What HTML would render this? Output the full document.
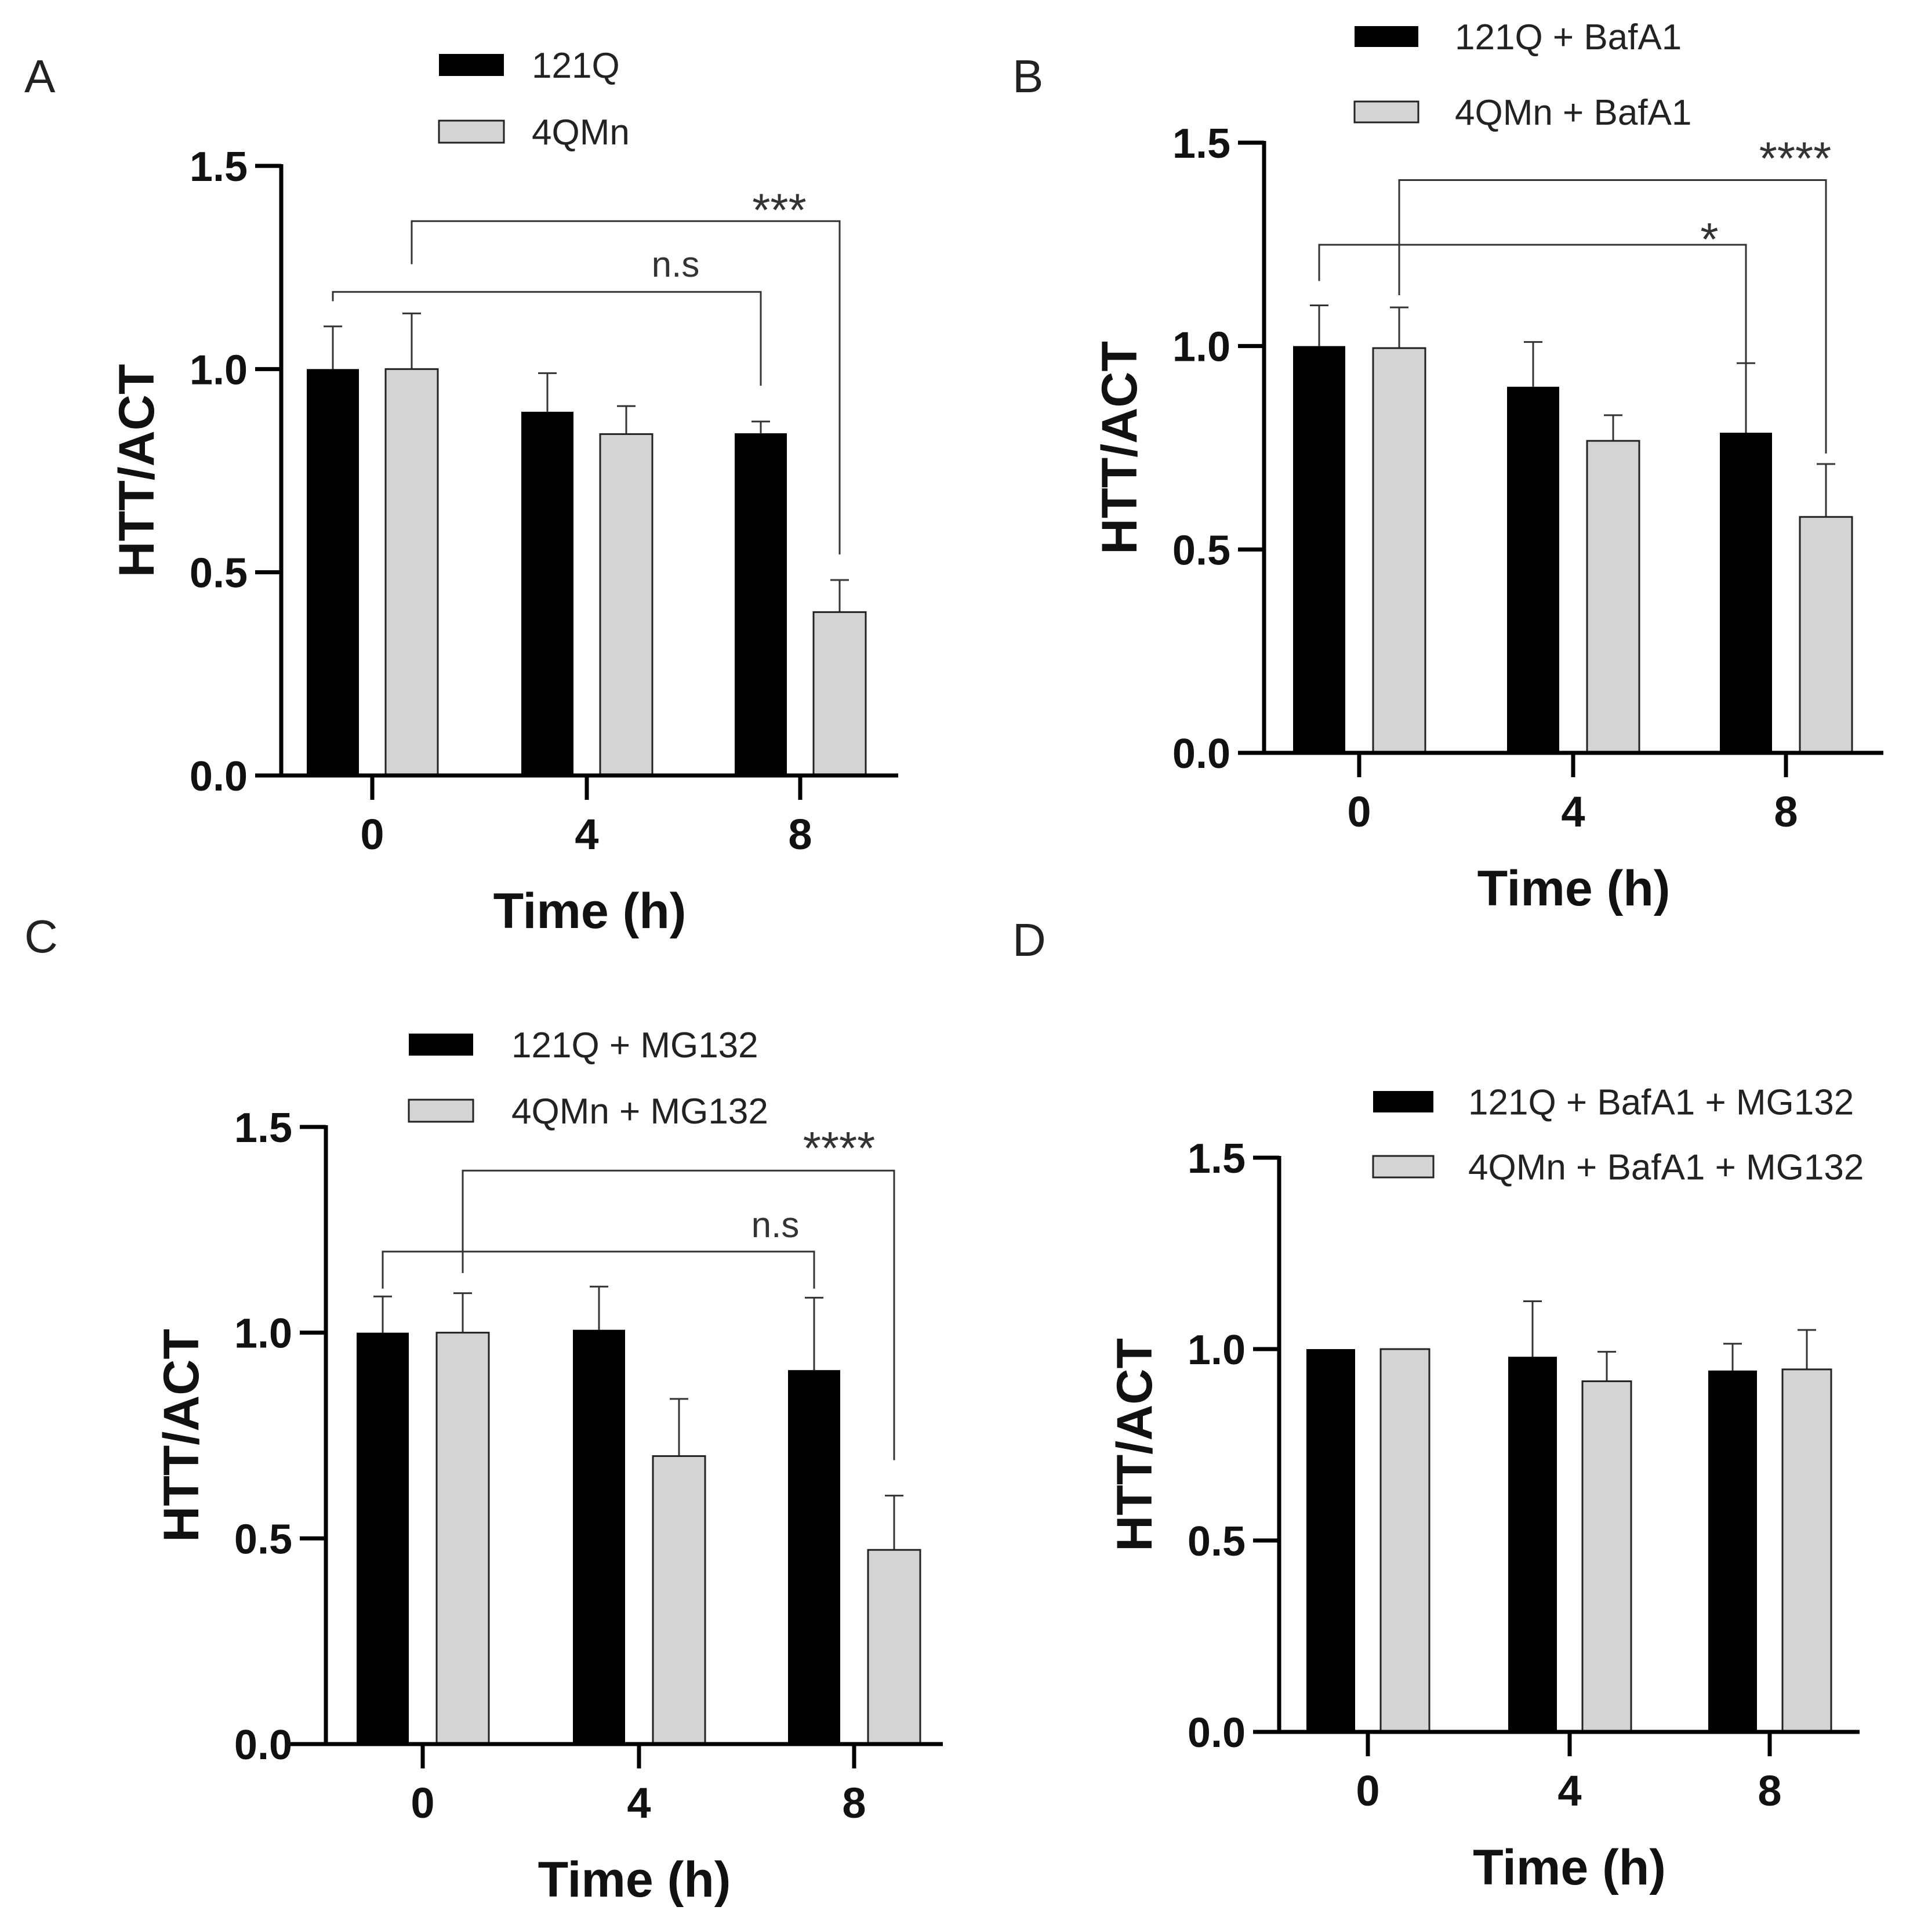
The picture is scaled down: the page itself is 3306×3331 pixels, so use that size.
<!DOCTYPE html>
<html><head><meta charset="utf-8"><style>
html,body{margin:0;padding:0;background:#fff;}
svg{display:block;font-family:"Liberation Sans",Arial,sans-serif;}
</style></head><body>
<svg id="fig" width="3306" height="3331" viewBox="0 0 3306 3331" xmlns="http://www.w3.org/2000/svg"></svg>
<script>
// ---- data ----
const categories = ["0","4","8"];
const yTicks = [0, 0.5, 1.0, 1.5];
const yTickLabels = ["0.0","0.5","1.0","1.5"];
// Panel A
const aBlack = [1.0, 0.895, 0.842];
const aBlackErr = [0.105, 0.095, 0.029];
const aGray = [1.0, 0.84, 0.402];
const aGrayErr = [0.137, 0.069, 0.079];
// Panel B
const bBlack = [1.0, 0.90, 0.787];
const bBlackErr = [0.10, 0.11, 0.171];
const bGray = [0.995, 0.767, 0.58];
const bGrayErr = [0.10, 0.063, 0.13];
// Panel C
const cBlack = [1.0, 1.007, 0.909];
const cBlackErr = [0.088, 0.105, 0.176];
const cGray = [1.0, 0.70, 0.472];
const cGrayErr = [0.096, 0.139, 0.132];
// Panel D
const dBlack = [1.0, 0.98, 0.944];
const dBlackErr = [0, 0.145, 0.07];
const dGray = [1.0, 0.916, 0.947];
const dGrayErr = [0, 0.077, 0.103];
// legend names
const aNames = ["121Q","4QMn"];
const bNames = ["121Q + BafA1","4QMn + BafA1"];
const cNames = ["121Q + MG132","4QMn + MG132"];
const dNames = ["121Q + BafA1 + MG132","4QMn + BafA1 + MG132"];
// brackets: [fromGroup, fromSeries, toGroup, toSeries, topVal, leftEndVal, rightEndVal, label]
const aBrackets = [[0,0,2,0,1.19,1.167,0.959,"n.s"],[0,1,2,1,1.364,1.258,0.544,"***"]];
const bBrackets = [[0,0,2,0,1.249,1.16,0.959,"*"],[0,1,2,1,1.408,1.125,0.736,"****"]];
const cBrackets = [[0,0,2,0,1.197,1.107,1.107,"n.s"],[0,1,2,1,1.394,1.145,0.69,"****"]];
const dBrackets = [];

// ---- layout ----
const panels = [
 {id:"a",letter:"A",lx:42,ly:159,ax:485,y0:1337,y15:286,xl:440,xr:1549,ticks:[642,1012,1380],off:68,bw:90,
  black:aBlack,blackErr:aBlackErr,gray:aGray,grayErr:aGrayErr,names:aNames,brackets:aBrackets,
  legX:757,legY:[93,208],legH:38,legW:112,legTX:917,labDx:[-147,-104],labDy:[-26,8]},
 {id:"b",letter:"B",lx:1746,ly:159,ax:2180,y0:1298,y15:246,xl:2140,xr:3248,ticks:[2344,2713,3080],off:69,bw:90,
  black:bBlack,blackErr:bBlackErr,gray:bGray,grayErr:bGrayErr,names:bNames,brackets:bBrackets,
  legX:2336,legY:[45,175],legH:36,legW:110,legTX:2509,labDx:[-63,-53],labDy:[18,-10]},
 {id:"c",letter:"C",lx:42,ly:1642,ax:562,y0:3007,y15:1943,xl:496,xr:1626,ticks:[729,1102,1473],off:69,bw:90,
  black:cBlack,blackErr:cBlackErr,gray:cGray,grayErr:cGrayErr,names:cNames,brackets:cBrackets,
  legX:705,legY:[1782,1896],legH:38,legW:111,legTX:882,labDx:[-67,-95],labDy:[-25,-11]},
 {id:"d",letter:"D",lx:1746,ly:1648,ax:2206,y0:2986,y15:1996,xl:2170,xr:3207,ticks:[2359,2707,3052],off:64,bw:84,
  black:dBlack,blackErr:dBlackErr,gray:dGray,grayErr:dGrayErr,names:dNames,brackets:dBrackets,
  legX:2368,legY:[1881,1993],legH:37,legW:104,legTX:2532,labDx:[],labDy:[]}
];

const NS="http://www.w3.org/2000/svg";
const fig=document.getElementById("fig");
function mk(tag,attrs,parent){const e=document.createElementNS(NS,tag);for(const k in attrs)e.setAttribute(k,attrs[k]);(parent||fig).appendChild(e);return e;}

panels.forEach(p=>{
  const g=mk("g",{});
  
  
  const yS=v=>p.y0-v*(p.y0-p.y15)/1.5;
  const L=mk("text",{x:p.lx,y:p.ly,"font-size":80,fill:"#222"},g);L.textContent=p.letter;
  
  
  const series=[[p.black,p.blackErr,"#000","#000",-p.off],[p.gray,p.grayErr,"#d4d4d4","#222",p.off]];
  series.forEach((s,si)=>{
    categories.forEach((c,i)=>{
      const cx=p.ticks[i]+s[4];
      const top=yS(s[0][i]);
      if(s[1][i]>0){
        const et=yS(s[0][i]+s[1][i]);
        const el=mk("line",{x1:cx,x2:cx,y1:top,y2:et,stroke:"#333","stroke-width":3},g);
        
        
        const ec=mk("line",{x1:cx-16,x2:cx+16,y1:et,y2:et,stroke:"#333","stroke-width":3},g);
        
        
      }
      const r=mk("rect",{x:cx-p.bw/2,y:top,width:p.bw,height:p.y0-top,fill:s[2],stroke:s[3],"stroke-width":si?3:0},g);
      
      
    });
  });
  const ya=mk("line",{x1:p.ax,x2:p.ax,y1:p.y15-3,y2:p.y0+3,stroke:"#000","stroke-width":7},g);
  
  
  const xa=mk("line",{x1:p.xl,x2:p.xr,y1:p.y0,y2:p.y0,stroke:"#000","stroke-width":7},g);
  
  
  yTicks.forEach((t,i)=>{
    const y=yS(t);
    const tk=mk("line",{x1:p.ax-45,x2:p.ax,y1:y,y2:y,stroke:"#000","stroke-width":7},g);
    
    
    const tl=mk("text",{x:p.ax-58,y:y+26,"font-size":72,"font-weight":"bold","text-anchor":"end",fill:"#111"},g);
    tl.textContent=yTickLabels[i];
    
    
  });
  categories.forEach((c,i)=>{
    const tx=p.ticks[i];
    const tk=mk("line",{x1:tx,x2:tx,y1:p.y0,y2:p.y0+42,stroke:"#000","stroke-width":7},g);
    
    
    const tl=mk("text",{x:tx,y:p.y0+127,"font-size":74,"font-weight":"bold","text-anchor":"middle",fill:"#111"},g);
    tl.textContent=c;
    
    
  });
  const xt=mk("text",{x:(p.ax+p.xr)/2,y:p.y0+263,"font-size":86,"font-weight":"bold","text-anchor":"middle",fill:"#111"},g);
  xt.textContent="Time (h)";
  
  
  const ym=(p.y0+p.y15)/2, yx=p.ax-220;
  const yt=mk("text",{x:yx,y:ym,"font-size":86,"font-weight":"bold","text-anchor":"middle",fill:"#111",transform:`rotate(-90 ${yx} ${ym})`},g);
  yt.textContent="HTT/ACT";
  
  
  [["#000","#000",0],["#d4d4d4","#222",3]].forEach((s,i)=>{
    const lr=mk("rect",{x:p.legX,y:p.legY[i],width:p.legW,height:p.legH,fill:s[0],stroke:s[1],"stroke-width":s[2]},g);
    
    
    const lt=mk("text",{x:p.legTX,y:p.legY[i]+p.legH/2+22,"font-size":62,fill:"#222"},g);
    lt.textContent=p.names[i];
    
    
  });
  const sx=(gi,si)=>p.ticks[gi]+(si?p.off:-p.off);
  p.brackets.forEach((b,bi)=>{
    const x1=sx(b[0],b[1]),x2=sx(b[2],b[3]),ty=yS(b[4]);
    const pl=mk("polyline",{points:`${x1},${yS(b[5])} ${x1},${ty} ${x2},${ty} ${x2},${yS(b[6])}`,fill:"none",stroke:"#333","stroke-width":3},g);
    
    
    const isStar=b[7].indexOf("*")===0;
    const st=mk("text",{x:x2+p.labDx[bi],y:ty+p.labDy[bi],"font-size":isStar?80:62,"text-anchor":"middle",fill:"#333"},g);
    st.textContent=b[7];
    
    
  });
});
</script>
</body></html>
